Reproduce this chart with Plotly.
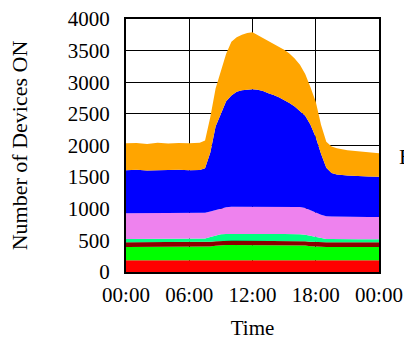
import plotly.graph_objects as go

# time of day in hours
hours = [0, 1, 2, 3, 4, 5, 6, 7, 7.5, 8, 8.5, 9, 9.5, 10, 10.5, 11, 11.5, 12, 12.5, 13,
         13.5, 14, 14.5, 15, 15.5, 16, 16.5, 17, 17.5, 18, 18.5, 19, 19.5, 20, 21, 22, 23, 24]

# cumulative upper boundaries of each stacked layer (number of devices ON)
red_top = [185] * 38
green_top = [395] * 8 + [398, 405, 415, 424] + [427] * 14 + [425, 418, 408, 400, 396] + [395] * 7
darkred_top = [469] * 8 + [472, 480, 488, 494] + [495] * 14 + [493, 487, 480, 474, 470] + [469] * 7
spring_top = [522] * 8 + [530, 555, 580, 595] + [601, 603, 600, 602, 604, 601, 600, 603, 601, 599, 602, 600, 601, 600] + \
             [598, 588, 570, 548, 528, 522, 520] + [518] * 5
violet_top = [928] * 8 + [935, 955, 980, 1003, 1022] + [1032] * 13 + \
             [1028, 1010, 980, 942, 905, 882, 876, 874, 872, 871, 870, 870]
blue_top = [1610, 1615, 1605, 1612, 1608, 1615, 1610, 1612, 1640, 1890, 2300, 2510, 2700, 2790,
            2850, 2872, 2885, 2888, 2880, 2860, 2825, 2800, 2762, 2722, 2672, 2615, 2550, 2470,
            2330, 2130, 1870, 1650, 1565, 1540, 1525, 1515, 1510, 1507]
orange_top = [2035, 2040, 2025, 2045, 2030, 2040, 2035, 2045, 2080, 2450, 2900, 3180, 3450, 3640,
              3710, 3750, 3780, 3790, 3745, 3690, 3645, 3605, 3565, 3515, 3455, 3375, 3275, 3130,
              2920, 2690, 2330, 2060, 1985, 1955, 1925, 1905, 1890, 1876]

layers = [
    ("L1", red_top, "#FF0000"),
    ("L2", green_top, "#00FF00"),
    ("L3", darkred_top, "#8B0000"),
    ("L4", spring_top, "#00FF7F"),
    ("L5", violet_top, "#EE82EE"),
    ("L6", blue_top, "#0000FF"),
    ("L7", orange_top, "#FFA500"),
]

x_tickvals = [0, 6, 12, 18, 24]
x_ticktext = ["00:00", "06:00", "12:00", "18:00", "00:00"]
y_tickvals = [0, 500, 1000, 1500, 2000, 2500, 3000, 3500, 4000]

fig = go.Figure()
for i, (name, vals, col) in enumerate(layers):
    fig.add_trace(go.Scatter(
        x=hours, y=vals, name=name, mode="lines",
        line=dict(width=0, color=col),
        fill="tozeroy" if i == 0 else "tonexty",
        fillcolor=col, showlegend=False, hoverinfo="skip",
    ))

font_family = "Liberation Serif, Times New Roman, serif"
fig.update_layout(
    width=404, height=340,
    margin=dict(l=126, r=25, t=19, b=68),
    paper_bgcolor="white", plot_bgcolor="white",
    font=dict(family=font_family, size=21, color="black"),
    xaxis=dict(
        range=[0, 24], tickvals=x_tickvals, ticktext=x_ticktext,
        showgrid=True, gridcolor="black", gridwidth=1,
        showline=True, linecolor="black", linewidth=2, mirror=True,
        ticks="", ticklabelstandoff=3, zeroline=False, automargin=False,
        title=dict(text="Time", font=dict(size=21), standoff=17),
    ),
    yaxis=dict(
        range=[0, 4000], tickvals=y_tickvals,
        showgrid=True, gridcolor="black", gridwidth=1,
        showline=True, linecolor="black", linewidth=2, mirror=True,
        ticks="", ticklabelstandoff=10, zeroline=False, automargin=False,
        title=dict(text="Number of Devices ON", font=dict(size=22), standoff=34),
    ),
    annotations=[dict(
        text="B", xref="paper", yref="paper", x=1.071, y=0.455,
        xanchor="left", yanchor="middle", showarrow=False,
        font=dict(size=22, family=font_family, color="black"),
    )],
)

fig.write_html(
    "out.html",
    config={"displayModeBar": False},
    post_script="document.body.style.margin='0';document.body.style.overflow='hidden';",
)
